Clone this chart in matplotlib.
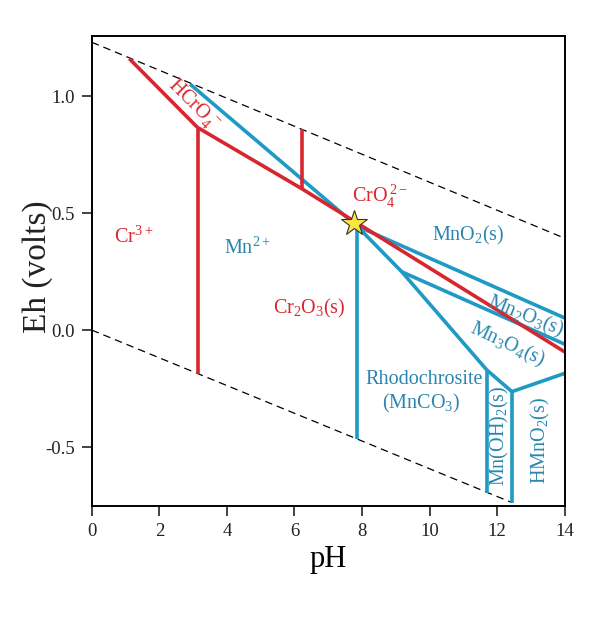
import matplotlib
matplotlib.use("Agg")
import matplotlib.pyplot as plt

plt.rcParams['font.family'] = ['Liberation Serif', 'DejaVu Serif']
plt.rcParams['mathtext.fontset'] = 'custom'
plt.rcParams['mathtext.rm'] = 'Liberation Serif'

RED = '#d8262f'
BLUE = '#1e9ac4'
BLUE_TXT = '#2a86b0'

# water stability limits
o2_ph = [0.0, 13.88]
o2_eh = [1.23, 0.40]
h2_ph = [0.0, 12.44]
h2_eh = [0.0, -0.737]

# chromium boundaries (pH, Eh)
cr_lines = [
    ([1.11, 3.13], [1.16, 0.866]),          # Cr3+ / HCrO4-
    ([3.13, 3.13], [0.866, -0.186]),        # Cr3+ / Cr2O3
    ([3.13, 6.21, 14.0], [0.866, 0.605, -0.093]),  # Cr(VI) / Cr2O3
    ([6.21, 6.21], [0.605, 0.858]),         # HCrO4- / CrO4 2-
]

# manganese boundaries (pH, Eh)
mn_lines = [
    ([2.91, 7.85], [1.051, 0.445]),         # Mn2+ / MnO2
    ([7.85, 7.85], [0.445, -0.465]),        # Mn2+ / MnCO3
    ([7.85, 14.0], [0.445, 0.052]),         # MnO2 / Mn2O3
    ([7.85, 9.18, 11.70], [0.445, 0.249, -0.171]),  # Mn3O4 / MnCO3
    ([9.18, 14.0], [0.249, -0.060]),        # Mn2O3 / Mn3O4
    ([11.70, 11.70], [-0.171, -0.695]),     # MnCO3 / Mn(OH)2
    ([11.70, 12.44, 14.0], [-0.171, -0.263, -0.185]),  # Mn3O4 / Mn(OH)2, HMnO2
    ([12.44, 12.44], [-0.263, -0.737]),     # Mn(OH)2 / HMnO2
]

star_ph, star_eh = 7.77, 0.459

fig = plt.figure(figsize=(6.0, 6.24), dpi=100)
ax = fig.add_axes([0.153, 0.189, 0.788, 0.753])

ax.plot(o2_ph, o2_eh, color='k', ls=(0, (6, 4)), lw=0.9)
ax.plot(h2_ph, h2_eh, color='k', ls=(0, (6, 4)), lw=0.9)

for xs, ys in mn_lines:
    ax.plot(xs, ys, color=BLUE, lw=2.6, solid_capstyle='butt')
for xs, ys in cr_lines:
    ax.plot(xs, ys, color=RED, lw=2.6, solid_capstyle='butt')

ax.plot(star_ph, star_eh, marker='*', ms=19, mfc='#f8e540', mec='#333333', mew=0.8)

# labels
fs = 14.5
ax.text(1.25, 0.40, r'Cr$^{3+}$', color=RED, fontsize=fs, ha='center', va='center')
ax.text(4.6, 0.35, r'Mn$^{2+}$', color=BLUE_TXT, fontsize=fs, ha='center', va='center')
ax.text(3.0, 0.96, r'HCrO$_4^{\,-}$', color=RED, fontsize=fs, ha='center', va='center', rotation=-45)
ax.text(8.55, 0.57, r'CrO$_4^{\,2-}$', color=RED, fontsize=fs, ha='center', va='center')
ax.text(11.15, 0.405, r'MnO$_2$(s)', color=BLUE_TXT, fontsize=fs, ha='center', va='center')
ax.text(6.45, 0.094, r'Cr$_2$O$_3$(s)', color=RED, fontsize=fs, ha='center', va='center')
ax.text(12.85, 0.058, r'Mn$_2$O$_3$(s)', color=BLUE_TXT, fontsize=fs, ha='center', va='center', rotation=-22)
ax.text(12.3, -0.06, r'Mn$_3$O$_4$(s)', color=BLUE_TXT, fontsize=fs, ha='center', va='center', rotation=-25)
ax.text(9.85, -0.21, 'Rhodochrosite', color=BLUE_TXT, fontsize=fs, ha='center', va='center')
ax.text(9.75, -0.315, r'(MnCO$_3$)', color=BLUE_TXT, fontsize=fs, ha='center', va='center')
ax.text(12.08, -0.45, r'Mn(OH)$_2$(s)', color=BLUE_TXT, fontsize=fs, ha='center', va='center', rotation=90)
ax.text(13.3, -0.47, r'HMnO$_2$(s)', color=BLUE_TXT, fontsize=fs, ha='center', va='center', rotation=90)

ax.set_xlim(0, 14)
ax.set_ylim(-0.752, 1.256)
ax.set_xticks(range(0, 15, 2))
ax.set_yticks([-0.5, 0.0, 0.5, 1.0])
ax.set_yticklabels(['-0.5', '0.0', '0.5', '1.0'])
ax.tick_params(direction='out', length=7, width=1.2, labelsize=13.5, colors='#222222', pad=5)
for s in ax.spines.values():
    s.set_linewidth(1.4)
ax.set_xlabel('pH', fontsize=22)
ax.set_ylabel('Eh (volts)', fontsize=24, color='#222222')
ax.xaxis.set_label_coords(0.5, -0.082)
ax.yaxis.set_label_coords(-0.083, 0.51)

fig.savefig('out.png', dpi=100)
